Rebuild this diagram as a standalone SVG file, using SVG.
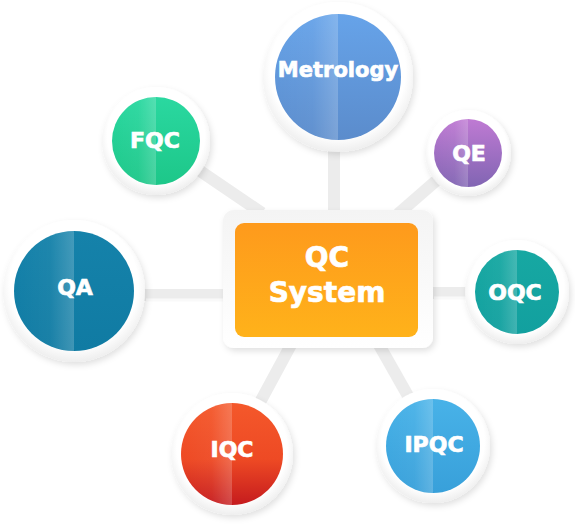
<svg xmlns="http://www.w3.org/2000/svg" width="575" height="531" viewBox="0 0 575 531">
<style>
.lbl{font-family:"DejaVu Sans","Liberation Sans",sans-serif;font-weight:bold;fill:#fff;stroke:#fff;stroke-width:0.7;text-anchor:middle}
.ring{fill:url(#ringG);filter:url(#sh)}
.hl{fill:url(#hlG)}
.conn{stroke:#ececec;stroke-width:12;fill:none}
.connhl{stroke:#f9f9f9;stroke-width:3;fill:none}
</style>
<defs>
<filter id="sh" x="-20%" y="-20%" width="140%" height="140%"><feDropShadow dx="2" dy="3" stdDeviation="3" flood-color="#000" flood-opacity="0.12"/></filter>
<radialGradient id="ringG" cx="0.5" cy="0.45" r="0.55"><stop offset="0.82" stop-color="#ffffff"/><stop offset="1" stop-color="#eeeeee"/></radialGradient>
<linearGradient id="hlG" x1="0" y1="0" x2="1" y2="0"><stop offset="0" stop-color="#fff" stop-opacity="0"/><stop offset="0.6" stop-color="#fff" stop-opacity="0.04"/><stop offset="1" stop-color="#fff" stop-opacity="0.2"/></linearGradient>
<linearGradient id="gMet" x1="0" y1="0" x2="0" y2="1"><stop offset="0" stop-color="#66a3e9"/><stop offset="1" stop-color="#5b8ccc"/></linearGradient>
<linearGradient id="gFqc" x1="0" y1="0" x2="0" y2="1"><stop offset="0" stop-color="#2ad8a0"/><stop offset="1" stop-color="#1dc789"/></linearGradient>
<linearGradient id="gQe" x1="0" y1="0" x2="0" y2="1"><stop offset="0" stop-color="#bf7ad3"/><stop offset="1" stop-color="#8165b3"/></linearGradient>
<linearGradient id="gQa" x1="0" y1="0" x2="0" y2="1"><stop offset="0" stop-color="#1582aa"/><stop offset="1" stop-color="#107ba3"/></linearGradient>
<linearGradient id="gOqc" x1="0" y1="0" x2="0" y2="1"><stop offset="0" stop-color="#17a8a2"/><stop offset="1" stop-color="#12a09f"/></linearGradient>
<linearGradient id="gIqc" x1="0" y1="0" x2="0" y2="1"><stop offset="0" stop-color="#f4582b"/><stop offset="0.55" stop-color="#ee4a24"/><stop offset="1" stop-color="#c51b1e"/></linearGradient>
<linearGradient id="gIpqc" x1="0" y1="0" x2="0" y2="1"><stop offset="0" stop-color="#48b2e8"/><stop offset="1" stop-color="#38a0da"/></linearGradient>
<linearGradient id="gBox" x1="0" y1="0" x2="0" y2="1"><stop offset="0" stop-color="#fe9a1c"/><stop offset="1" stop-color="#ffb21a"/></linearGradient>
<linearGradient id="gFrame" x1="0" y1="0" x2="0" y2="1"><stop offset="0" stop-color="#f4f4f4"/><stop offset="1" stop-color="#ffffff"/></linearGradient>
</defs>
<g id="connectors" stroke-linecap="butt">
<line class="conn" x1="334" y1="140" x2="334" y2="215"/>
<line class="conn" x1="156" y1="141" x2="262" y2="213"/>
<line class="conn" x1="468" y1="153" x2="398" y2="214"/>
<line class="conn" x1="74" y1="295" x2="228" y2="295"/>
<line class="conn" x1="428" y1="293" x2="517" y2="293"/>
<line class="conn" x1="232" y1="454" x2="292" y2="343"/>
<line class="conn" x1="378" y1="343" x2="433" y2="440"/>
<line class="connhl" x1="146" y1="300" x2="224" y2="300"/>
<line class="connhl" x1="434" y1="298" x2="468" y2="298"/>
</g>
<g id="metrology"><circle class="ring" cx="338" cy="77" r="75"/><circle cx="338" cy="77" r="63" fill="url(#gMet)"/><path class="hl" d="M338 14A63 63 0 0 0 338 140Z"/><text class="lbl" x="338" y="77" font-size="21">Metrology</text></g>
<g id="fqc"><circle class="ring" cx="156" cy="141" r="54"/><circle cx="156" cy="141" r="44" fill="url(#gFqc)"/><path class="hl" d="M156 97A44 44 0 0 0 156 185Z"/><text class="lbl" x="155" y="148" font-size="22">FQC</text></g>
<g id="qe"><circle class="ring" cx="468" cy="153" r="43"/><circle cx="468" cy="153" r="34" fill="url(#gQe)"/><path class="hl" d="M468 119A34 34 0 0 0 468 187Z"/><text class="lbl" x="469" y="161" font-size="22">QE</text></g>
<g id="qa"><circle class="ring" cx="74" cy="291" r="71"/><circle cx="74" cy="291" r="60" fill="url(#gQa)"/><path class="hl" d="M74 231A60 60 0 0 0 74 351Z"/><text class="lbl" x="75" y="295" font-size="22">QA</text></g>
<g id="oqc"><circle class="ring" cx="517" cy="292" r="52"/><circle cx="517" cy="292" r="42" fill="url(#gOqc)"/><path class="hl" d="M517 250A42 42 0 0 0 517 334Z"/><text class="lbl" x="515" y="300" font-size="22">OQC</text></g>
<g id="iqc"><circle class="ring" cx="232" cy="454" r="61"/><circle cx="232" cy="454" r="51" fill="url(#gIqc)"/><path class="hl" d="M232 403A51 51 0 0 0 232 505Z"/><text class="lbl" x="232" y="457" font-size="22">IQC</text></g>
<g id="ipqc"><circle class="ring" cx="433" cy="446" r="57"/><circle cx="433" cy="446" r="47" fill="url(#gIpqc)"/><path class="hl" d="M433 399A47 47 0 0 0 433 493Z"/><text class="lbl" x="434" y="452" font-size="22">IPQC</text></g>
<g id="qc-system"><rect x="223" y="210" width="210" height="138" rx="11" fill="url(#gFrame)" filter="url(#sh)"/><rect x="235" y="223" width="183" height="114" rx="9" fill="url(#gBox)"/><text class="lbl" x="327" y="267" font-size="28">QC</text><text class="lbl" x="327" y="302" font-size="28">System</text></g>
</svg>
